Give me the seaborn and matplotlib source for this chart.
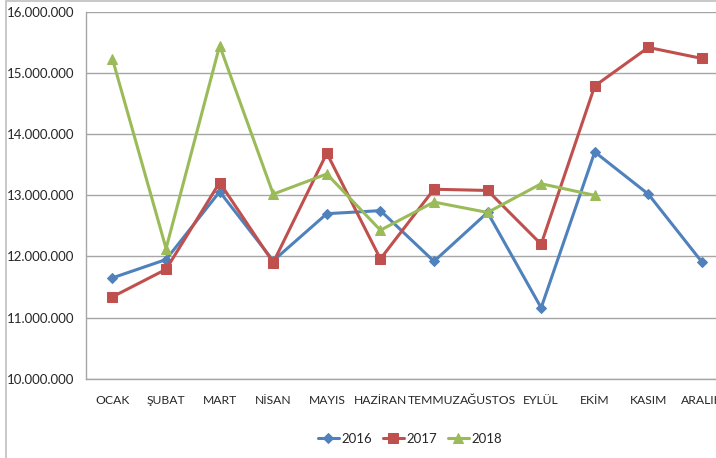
import numpy as np
import pandas as pd
import matplotlib
matplotlib.use("Agg")
import matplotlib.pyplot as plt
from matplotlib.ticker import FuncFormatter, FixedLocator
from matplotlib.patches import Rectangle
import seaborn as sns

months = ["OCAK", "ŞUBAT", "MART", "NİSAN", "MAYIS", "HAZİRAN",
          "TEMMUZ", "AĞUSTOS", "EYLÜL", "EKİM", "KASIM", "ARALIK"]
y2016 = [11650000, 11950000, 13060000, 11930000, 12700000, 12750000,
         11920000, 12720000, 11160000, 13710000, 13020000, 11910000]
y2017 = [11340000, 11790000, 13210000, 11900000, 13690000, 11960000,
         13100000, 13080000, 12200000, 14790000, 15420000, 15240000]
y2018 = [15230000, 12130000, 15450000, 13020000, 13350000, 12430000,
         12890000, 12720000, 13190000, 13000000, np.nan, np.nan]

series = {"2016": y2016, "2017": y2017, "2018": y2018}
colors = {"2016": "#4F81BD", "2017": "#C0504D", "2018": "#9BBB59"}
markers = {"2016": "D", "2017": "s", "2018": "^"}
msizes = {"2016": 5, "2017": 7, "2018": 7}

sns.set_style("white")
plt.rcParams["font.family"] = ["Lato", "DejaVu Sans"]

fig = plt.figure(figsize=(7.16, 4.58), dpi=100)
# plot area runs past the right edge, like the cropped original
ax = fig.add_axes([85.7 / 716, 1 - 378.7 / 458, 643 / 716, 366.7 / 458])

x = np.arange(len(months))
for name, vals in series.items():
    df = pd.DataFrame({"x": x, "y": vals}).dropna()
    sns.lineplot(data=df, x="x", y="y", ax=ax, color=colors[name],
                 marker=markers[name], markersize=msizes[name],
                 markeredgecolor=colors[name], linewidth=2.2, label=name)

ax.set_xlim(-0.5, 11.5)
ax.set_ylim(10000000, 16000000)
ax.set_yticks(np.arange(10000000, 16000001, 1000000))
ax.yaxis.set_major_formatter(FuncFormatter(lambda v, p: f"{int(v):,}".replace(",", ".")))
ax.set_xticks(x)
ax.set_xticklabels(months)
ax.xaxis.set_minor_locator(FixedLocator(np.arange(-0.5, 12, 1)))
ax.tick_params(axis="x", which="major", length=0, pad=12, labelsize=8.7, colors="#262626")
ax.tick_params(axis="x", which="minor", length=3.5, width=1, color="#A6A6A6", direction="out")
ax.tick_params(axis="y", length=3.5, width=1, color="#A6A6A6", direction="out",
               pad=5, labelsize=9.5, labelcolor="#262626")
ax.set_xlabel("")
ax.set_ylabel("")

ax.grid(axis="y", color="#A6A6A6", linewidth=1)
ax.set_axisbelow(True)
for side in ["top", "right"]:
    ax.spines[side].set_visible(False)
for side in ["left", "bottom"]:
    ax.spines[side].set_color("#A6A6A6")
    ax.spines[side].set_linewidth(1)

ax.legend(loc="center", bbox_to_anchor=(410 / 716, 19 / 458), bbox_transform=fig.transFigure,
          ncol=3, frameon=False, fontsize=9.5, handlelength=1.6, handletextpad=0.2,
          columnspacing=0.8)

fig.patches.append(Rectangle((6 / 716, -0.1), 1.2, 1.1 - 1.5 / 458, transform=fig.transFigure,
                             fill=False, edgecolor="#BFBFBF", linewidth=1.2))

fig.savefig("out.png", dpi=100)
